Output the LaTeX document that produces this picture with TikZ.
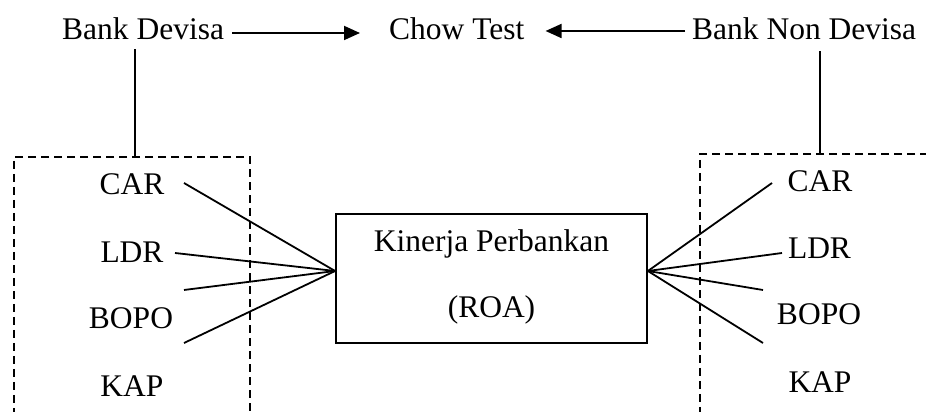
\documentclass[tikz,border=0pt]{standalone}
\usepackage{fontspec}
\setmainfont{Liberation Serif}
\usetikzlibrary{arrows.meta}
\begin{document}
\begin{tikzpicture}[x=1pt,y=1pt,
  lbl/.style={font=\fontsize{31.5}{38}\selectfont, inner sep=0pt, anchor=base},
  conn/.style={line width=1.8pt},
  arr/.style={conn, -{Triangle[length=16pt,width=14pt]}},
  dbox/.style={draw, dash pattern=on 8pt off 5pt, line width=1.5pt, inner sep=0pt},
  kbox/.style={draw, line width=1.8pt, inner sep=0pt}]
\clip (0,0) rectangle (926,412);
% top row
\node[lbl, anchor=base west] (bd) at (62,372) {Bank Devisa};
\node[lbl, anchor=base west] (ct) at (389,372) {Chow Test};
\node[lbl, anchor=base west] (bnd) at (692,372) {Bank Non Devisa};
\draw[arr] ([shift={(8,7)}]bd.base east) -- ([shift={(-29,7)}]ct.base west);
\draw[arr] ([shift={(-7,9)}]bnd.base west) -- ([shift={(21,9)}]ct.base east);
% dashed groups
\node[dbox, minimum width=236pt, minimum height=265pt] (lbox) at (132,122.5) {};
\node[dbox, minimum width=240pt, minimum height=268pt] (rbox) at (820,124) {};
\draw[conn] ([xshift=3pt]lbox.north) -- ++(0,107);
\draw[conn] (rbox.north) -- ++(0,102);
% central box
\node[kbox, minimum width=311pt, minimum height=129pt] (kp) at (491.5,133.5) {};
\node[lbl] (kt1) at (491.5,160) {Kinerja Perbankan};
\node[lbl] (kt2) at (491.5,94) {(ROA)};
\coordinate (kpL) at ([yshift=7.5pt]kp.west);
\coordinate (kpR) at ([yshift=7.5pt]kp.east);
% left labels
\node[lbl] (lcar) at (132,217) {CAR};
\node[lbl] (lldr) at (132,149.3) {LDR};
\node[lbl] (lbopo) at (131,83) {BOPO};
\node[lbl] (lkap) at (132,15.3) {KAP};
% right labels
\node[lbl] (rcar) at (820,220.3) {CAR};
\node[lbl] (rldr) at (819.5,153) {LDR};
\node[lbl] (rbopo) at (819,87) {BOPO};
\node[lbl] (rkap) at (820,19) {KAP};
% free ends of the fan lines
\coordinate (l1) at (184,229);
\coordinate (l2) at (175,159);
\coordinate (l3) at (184,122);
\coordinate (l4) at (184,69);
\coordinate (r1) at (772,229);
\coordinate (r2) at (782,159);
\coordinate (r3) at (763,122);
\coordinate (r4) at (763,69);
\foreach \c in {l1,l2,l3,l4} \draw[conn] (\c) -- (kpL);
\foreach \c in {r1,r2,r3,r4} \draw[conn] (kpR) -- (\c);
\end{tikzpicture}
\end{document}
